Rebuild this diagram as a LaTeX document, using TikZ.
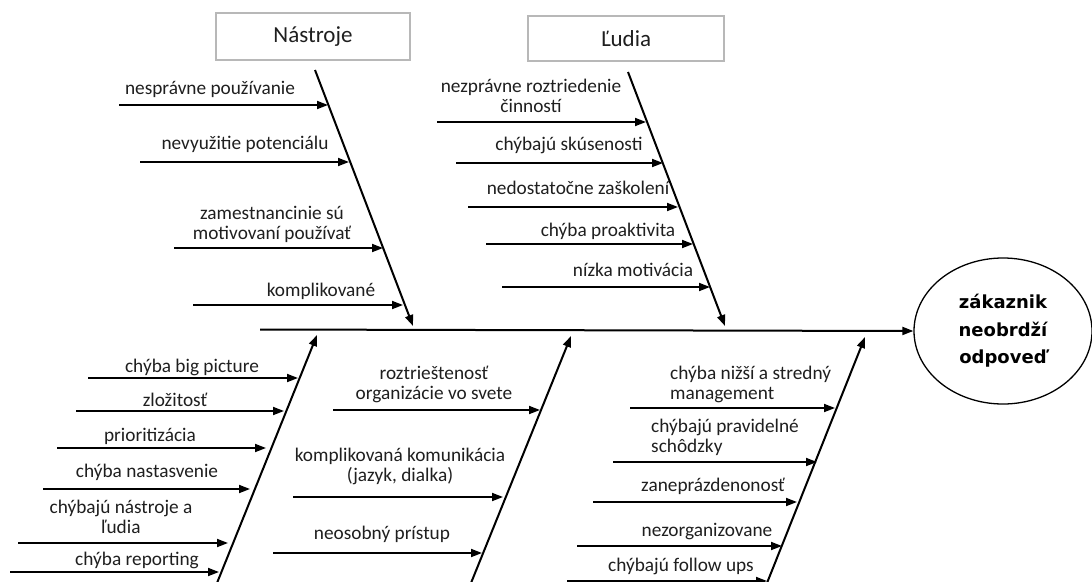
\documentclass[tikz,border=0pt]{standalone}
\usepackage{fontspec}
\setmainfont{Carlito}
\newfontfamily\ellfont{DejaVu Sans}
\usetikzlibrary{arrows.meta,shapes.geometric}
\begin{document}
\begin{tikzpicture}[x=1pt,y=-1pt,
  bone/.style={line width=2pt,-{Triangle[length=11pt,width=8pt]}},
  sub/.style={line width=1.8pt,-{Triangle[length=11pt,width=8pt]}},
  lbl/.style={anchor=base,inner sep=0pt,align=center,text=black!88,font=\fontsize{19.3}{20}\selectfont},
  lbll/.style={lbl,anchor=base west,align=left},
  catbox/.style={draw=black!28,line width=1.2pt,inner sep=0pt,text=black!88,font=\fontsize{23}{26}\selectfont}]
\useasboundingbox (0,0) rectangle (1092,581);
\fill[white] (0,0) rectangle (1092,581);

% category boxes
\node[catbox,minimum width=194pt,minimum height=47pt] (nastroje) at (313,36.5) {Nástroje};
\node[catbox,minimum width=196pt,minimum height=45pt] (ludia) at (626,38.5) {Ľudia};

% effect
\node[draw,ellipse,line width=1.3pt,minimum width=178pt,minimum height=146pt,inner sep=0pt,
      align=center,font=\ellfont\bfseries\fontsize{18}{27.5}\selectfont] (eff) at (1003,331)
      {zákaznik\\neobrdží\\odpoveď};

% spine
\coordinate (sp) at (260,329.5);
\draw[line width=2pt,-{Triangle[length=11pt,width=8pt]}] (sp) -- (eff.west);

% main bones
\coordinate (n1) at (315,70);  \coordinate (n2) at (413,326);
\coordinate (l1) at (628,72);  \coordinate (l2) at (725,326);
\coordinate (b1s) at (217,583); \coordinate (b1e) at (317,335);
\coordinate (b2s) at (471,583); \coordinate (b2e) at (571,336);
\coordinate (b3s) at (767,583); \coordinate (b3e) at (865,337);
\draw[bone] (n1) -- (n2);
\draw[bone] (l1) -- (l2);
\draw[bone] (b1s) -- (b1e);
\draw[bone] (b2s) -- (b2e);
\draw[bone] (b3s) -- (b3e);

% sub arrows
\foreach \n/\xs/\xe/\y in {
  a1/119/328/105, a2/140/349/162, a3/174/383/248, a4/193/403/305,
  c1/437/646/122, c2/456/663/163, c3/468/678/207, c4/486/693/244, c5/502/710/287,
  d1/88/298/378, d2/76/284/411, d3/57/266/448, d4/43/250/489, d5/18/228/543, d6/10/219/572,
  e1/333/540/410, e2/293/503/497, e3/273/482/553,
  f1/630/835/408, f2/613/817/462, f3/593/797/502, f4/577/782/546, f5/567/767/581}
{
  \coordinate (\n s) at (\xs,\y);
  \coordinate (\n e) at (\xe,\y);
  \draw[sub] (\n s) -- (\n e);
}

% labels - Nastroje
\node[lbl] (ta1) at (210,94.5) {nesprávne používanie};
\node[lbl] (ta2) at (245,149.5) {nevyužitie potenciálu};
\node[lbl] (ta3) at (272,239.5) {zamestnancinie sú\\motivovaní používať};
\node[lbl] (ta4) at (321,296.5) {komplikované};
% labels - Ludia
\node[lbl] (tc1) at (531,112.5) {nezprávne roztriedenie\\činností};
\node[lbl] (tc2) at (569,150.5) {chýbajú skúsenosti};
\node[lbl] (tc3) at (578,194.5) {nedostatočne zaškolení};
\node[lbl] (tc4) at (608,236.5) {chýba proaktivita};
\node[lbl] (tc5) at (633,276.5) {nízka motivácia};
% labels - bottom left
\node[lbl] (td1) at (192,372.5) {chýba big picture};
\node[lbl] (td2) at (175,406.5) {zložitosť};
\node[lbl] (td3) at (150,441.5) {prioritizácia};
\node[lbl] (td4) at (147,477.5) {chýba nastasvenie};
\node[lbl] (td5) at (121,533.5) {chýbajú nástroje a\\ľudia};
\node[lbl] (td6) at (137,565.5) {chýba reporting};
% labels - bottom middle
\node[lbl] (te1) at (434,399.5) {roztrieštenosť\\organizácie vo svete};
\node[lbl] (te2) at (400,481.5) {komplikovaná komunikácia\\(jazyk, dialka)};
\node[lbl] (te3) at (382,539.5) {neosobný prístup};
% labels - bottom right
\node[lbll] (tf1) at (670,399.5) {chýba nižší a stredný\\management};
\node[lbll] (tf2) at (651,452.5) {chýbajú pravidelné\\schôdzky};
\node[lbl] (tf3) at (713,491.5) {zaneprázdenonosť};
\node[lbl] (tf4) at (707,536.5) {nezorganizovane};
\node[lbl] (tf5) at (681,571.5) {chýbajú follow ups};
\end{tikzpicture}
\end{document}
